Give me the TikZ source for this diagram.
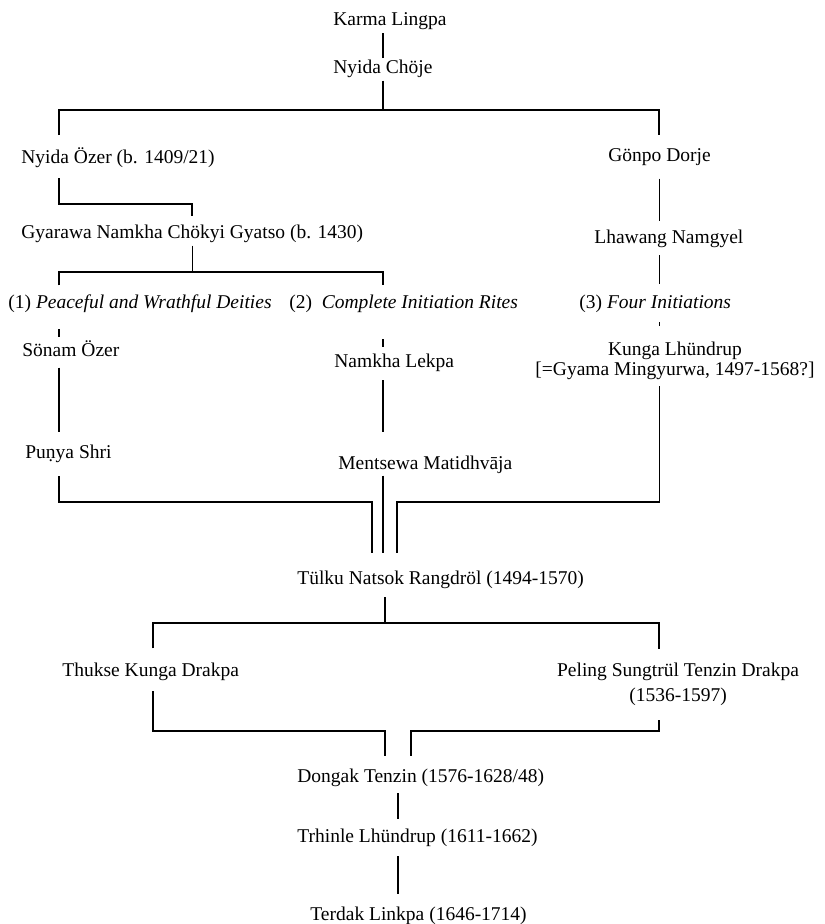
\documentclass[tikz,border=0pt]{standalone}
\usepackage{fontspec}
\setmainfont{Liberation Serif}

\begin{document}
\begin{tikzpicture}[
                x=0.5pt,y=-0.5pt,
                every node/.style={inner sep=1pt,anchor=base west,font=\fontsize{9.75}{11.7}\selectfont},
                tie/.style={line width=0.6pt}
            ]
                \useasboundingbox (0,0) rectangle (824,924);

                \node (karma) at (331,26) {Karma Lingpa};
                \node (choje) at (331,74) {Nyida Chöje};
                \node (ozer) at (19,164) {Nyida Özer (b. 1409/21)};
                \node (gonpo) at (606,162) {Gönpo Dorje};
                \node (gyarawa) at (19,239) {Gyarawa Namkha Chökyi Gyatso (b. 1430)};
                \node (lhawang) at (592,244) {Lhawang Namgyel};
                \node (peace) at (6,309) {(1) \textit{Peaceful and Wrathful Deities}};
                \node (rites) at (287,309) {(2)~~\textit{Complete Initiation Rites}};
                \node (four) at (577,309) {(3) \textit{Four Initiations}};
                \node (sonam) at (20,357) {Sönam Özer};
                \node (lekpa) at (332,367) {Namkha Lekpa};
                \node[anchor=north,align=center] (kunga) at (675,340) {Kunga Lhündrup\\[-2pt]{[}=Gyama Mingyurwa, 1497-1568?]};
                \node (punya) at (23,458) {Pu\d{n}ya Shri};
                \node (mentsewa) at (336,469) {Mentsewa Matidhvāja};
                \node (tulku) at (295,584) {Tülku Natsok Rangdröl (1494-1570)};
                \node (thukse) at (60,676) {Thukse Kunga Drakpa};
                \node[anchor=north,align=center] (peling) at (678,661) {Peling Sungtrül Tenzin Drakpa\\[0.8pt](1536-1597)};
                \node (dongak) at (295,782) {Dongak Tenzin (1576-1628/48)};
                \node (trhinle) at (295,842) {Trhinle Lhündrup (1611-1662)};
                \node (terdak) at (308,920) {Terdak Linkpa (1646-1714)};

                \coordinate (b1w) at (59,110);
                \coordinate (b1e) at (659,110);
                \coordinate (b2) at (192,204);
                \coordinate (b3w) at (59,272);
                \coordinate (b3e) at (383,272);
                \coordinate (t1) at (372,502);
                \coordinate (t3) at (397,502);
                \coordinate (b5w) at (153,623);
                \coordinate (b5e) at (659,623);
                \coordinate (d1) at (385,731);
                \coordinate (d2) at (411,731);
                \coordinate (c4) at (398,0);

                \draw[tie] (choje.north) -- (choje.north |- karma.south);
                \draw[tie] (choje) -- (choje |- b1w);
                \draw[tie,shorten <=5.3pt,shorten >=5.8pt] (b1w |- ozer.north) -- (b1w) -- (b1e) -- (b1e |- gonpo.north);

                \draw[tie,shorten <=3.8pt,shorten >=3.3pt] (b1w |- ozer.south) |- (b2) -- (b2 |- gyarawa.north);
                \draw[tie] (gyarawa) -- (gyarawa |- b3w);
                \draw[tie,shorten <=3.8pt,shorten >=3.8pt] (b3w |- peace.north) -- (b3w) -- (b3e) -- (b3e |- rites.north);

                \draw[tie,shorten <=5pt,shorten >=3.3pt] (gonpo) -- (gonpo |- lhawang.north);
                \draw[tie,shorten <=2.3pt,shorten >=4.3pt] (gonpo |- lhawang.south) -- (gonpo |- four.north);
                \draw[tie,shorten <=3.3pt,shorten >=7pt] (gonpo |- four.south) -- (gonpo |- kunga.north);

                \draw[tie,shorten <=6.8pt,shorten >=0.8pt] (b1w |- peace.south) -- (b1w |- sonam.north);
                \draw[tie,shorten <=4pt,shorten >=4.9pt] (b1w |- sonam.south) -- (b1w |- punya.north);
                \draw[tie,shorten <=11.8pt,shorten >=1.8pt] (b3e |- rites.south) -- (b3e |- lekpa.north);
                \draw[tie,shorten <=3.3pt,shorten >=10.3pt] (b3e |- lekpa.south) -- (b3e |- mentsewa.north);

                \draw[tie,shorten <=5.8pt,shorten >=7.3pt] (b1w |- punya.south) |- (t1) -- (t1 |- tulku.north);
                \draw[tie,shorten >=7.3pt] (b3e |- mentsewa.south) -- (b3e |- tulku.north);
                \draw[tie,shorten <=2.2pt,shorten >=7.3pt] (gonpo |- kunga.south) |- (t3) -- (t3 |- tulku.north);

                \draw[tie,shorten <=3.3pt] (d1 |- tulku.south) -- (d1 |- b5w);
                \draw[tie,shorten <=5.8pt,shorten >=5.8pt] (b5w |- thukse.north) -- (b5w) -- (b5e) -- (b5e |- peling.north);
                \draw[tie,shorten <=4.3pt,shorten >=4.8pt] (b5w |- thukse.south) |- (d1) -- (d1 |- dongak.north);
                \draw[tie,shorten <=5.8pt,shorten >=4.8pt] (b5e |- peling.south) |- (d2) -- (d2 |- dongak.north);

                \draw[tie,shorten <=2.3pt,shorten >=3.3pt] (c4 |- dongak.south) -- (c4 |- trhinle.north);
                \draw[tie,shorten <=3.8pt,shorten >=4.8pt] (c4 |- trhinle.south) -- (c4 |- terdak.north);
            \end{tikzpicture}
\end{document}
